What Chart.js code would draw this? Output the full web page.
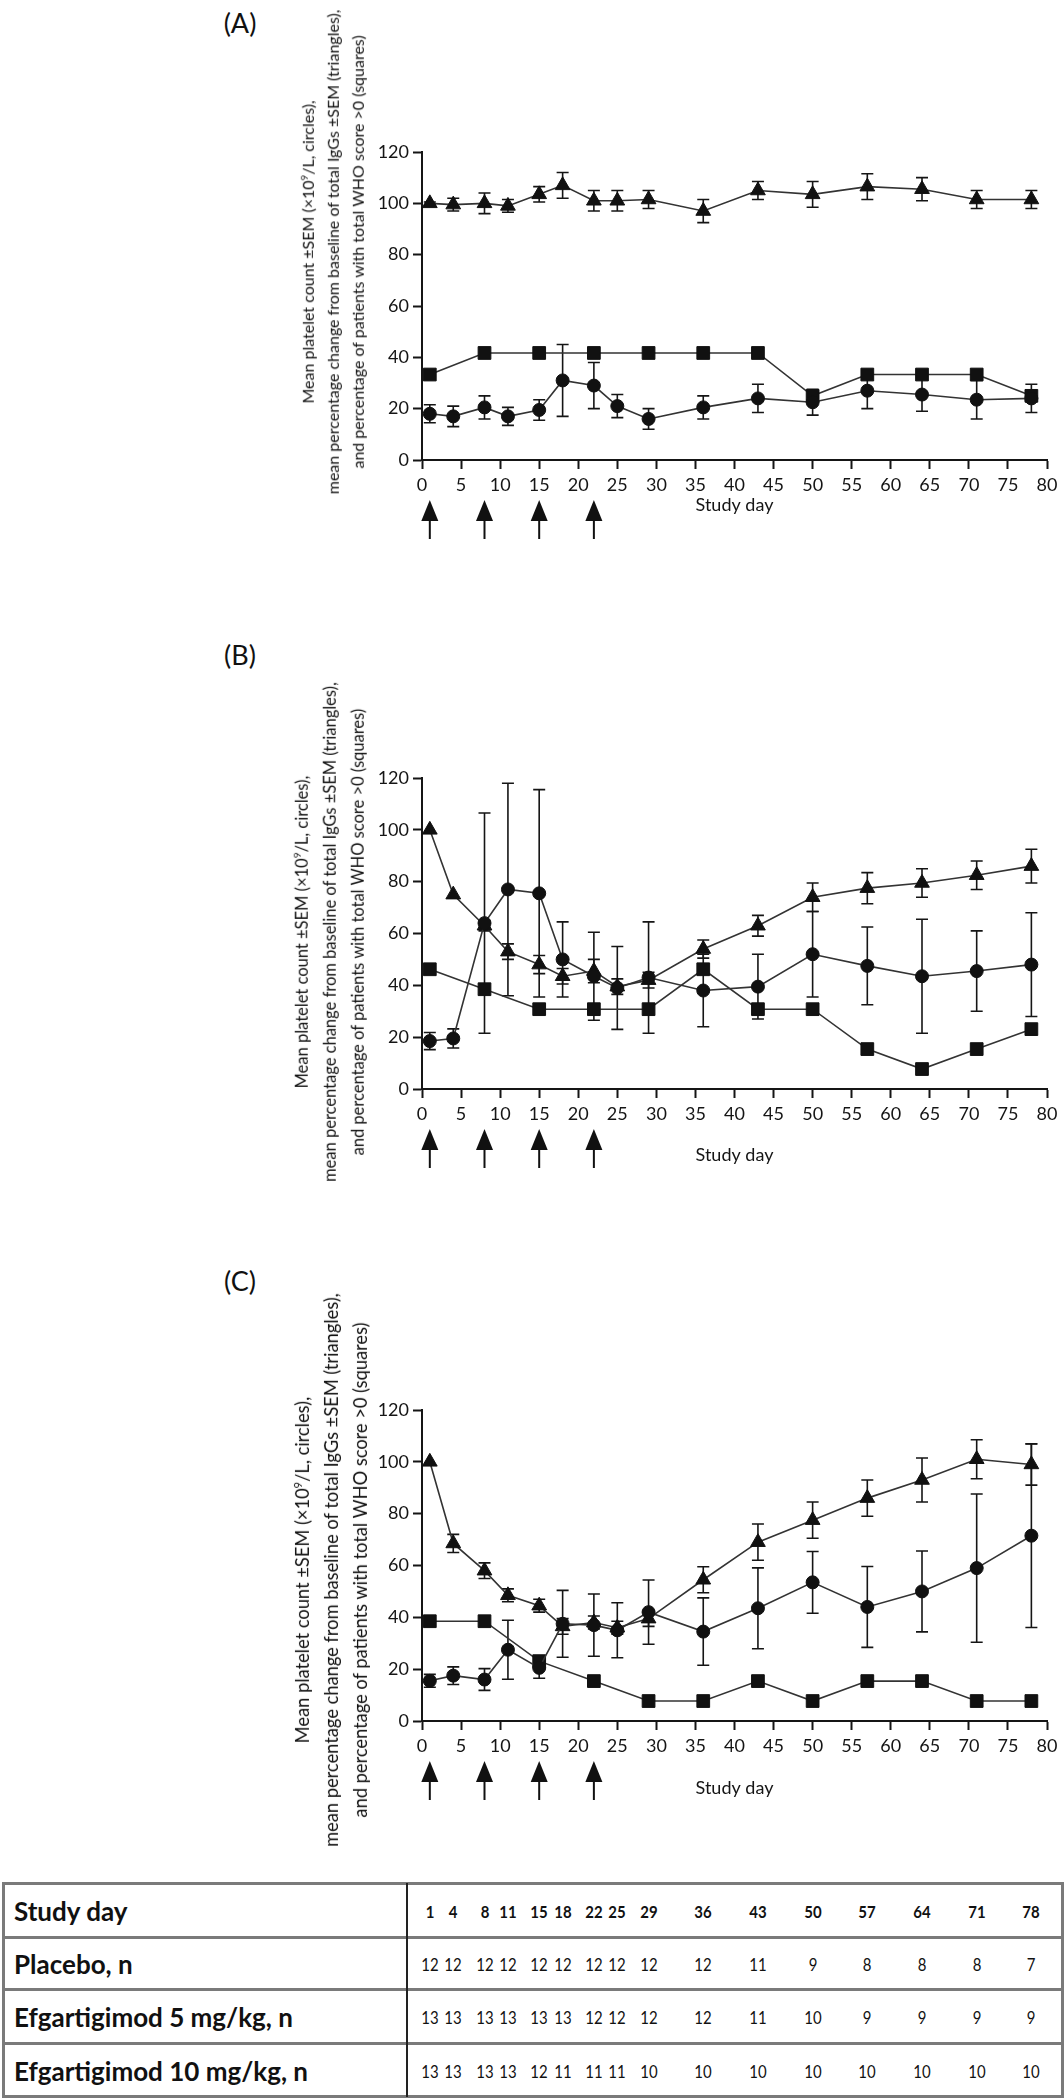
<!DOCTYPE html>
<html>
<head>
<meta charset="utf-8">
<script src="https://cdn.jsdelivr.net/npm/chart.js@4.4.1/dist/chart.umd.min.js"></script>
<style>
  body { margin: 0; background: #fff; }
  #page { position: relative; width: 1064px; height: 2100px; overflow: hidden; font-family: Lato, "Open Sans", sans-serif; color: #111; }
  canvas { position: absolute; left: 0; }
  .plabel { position: absolute; font-size: 27px; transform: translate(-50%, -50%); }
  .ytitle { position: absolute; white-space: nowrap; text-align: center; transform: translate(-50%, -50%) rotate(-90deg); }
  .ytitle sup { font-size: 0.6em; }
  .hline { position: absolute; left: 2px; width: 1062px; height: 3px; background: #7a7a7a; }
  .vline { position: absolute; width: 2px; background: #222; }
  .rowlabel { position: absolute; left: 14px; font-weight: bold; font-size: 26px; transform: translateY(-50%); }
  .num { position: absolute; font-size: 17px; transform: translate(-50%, -50%) scaleX(0.88); }
</style>
</head>
<body>
<div id="page">
  <div class="plabel" style="left:240px;top:22px">(A)</div>
  <div class="plabel" style="left:240px;top:654px">(B)</div>
  <div class="plabel" style="left:240px;top:1280px">(C)</div>

  <canvas id="chartA" width="1064" height="580" style="top:0px"></canvas>
  <canvas id="chartB" width="1064" height="600" style="top:590px"></canvas>
  <canvas id="chartC" width="1064" height="620" style="top:1230px"></canvas>

  <div class="ytitle" id="titleA" style="left:331px;top:252px;font-size:16px;line-height:25px"></div>
  <div class="ytitle" id="titleB" style="left:327px;top:932px;font-size:16.5px;line-height:28px"></div>
  <div class="ytitle" id="titleC" style="left:329px;top:1570px;font-size:18.3px;line-height:29px"></div>

  <div id="table"></div>
</div>
<script>
// study days on the x axis
const days = [1, 4, 8, 11, 15, 18, 22, 25, 29, 36, 43, 50, 57, 64, 71, 78];
const weekDays = [1, 8, 15, 22, 29, 36, 43, 50, 57, 64, 71, 78];
const doseDays = [1, 8, 15, 22];   // arrows under the axis

// (A) placebo
const plateletsA = [18, 17, 20.5, 17, 19.5, 31, 29, 21, 16, 20.5, 24, 22.5, 27, 25.5, 23.5, 24];
const plateletsSemA = [3.5, 4, 4.5, 3.5, 4, 14, 9, 4.5, 4, 4.5, 5.5, 5, 7, 6.5, 7.5, 5.5];
const iggA = [100, 99.5, 100, 99, 103.5, 107, 101, 101, 101.5, 97, 105, 103.5, 106.5, 105.5, 101.5, 101.5];
const iggSemA = [0.5, 2.5, 4, 2.5, 3, 5, 4, 4, 3.5, 4.5, 3.5, 5, 5, 4.5, 3.5, 3.5];
const whoA = [33.3, 41.7, 41.7, 41.7, 41.7, 41.7, 41.7, 25, 33.3, 33.3, 33.3, 25];

// (B) efgartigimod 5 mg/kg
const plateletsB = [18.5, 19.5, 64, 77, 75.5, 50, 43.5, 39, 43, 38, 39.5, 52, 47.5, 43.5, 45.5, 48];
const plateletsSemB = [3.3, 3.7, 42.5, 41, 40, 14.5, 17, 16, 21.5, 14, 12.5, 16.5, 15, 22, 15.5, 20];
const iggB = [100, 75, 63, 53, 48, 43.5, 45.5, 39.5, 42, 54, 63, 74, 77.5, 79.5, 82.5, 86];
const iggSemB = [0, 0, 2, 3, 3.5, 3, 4.5, 3, 3, 3.5, 4, 5.5, 6, 5.5, 5.5, 6.5];
const whoB = [46.2, 38.5, 30.8, 30.8, 30.8, 46.2, 30.8, 30.8, 15.4, 7.7, 15.4, 23.1];

// (C) efgartigimod 10 mg/kg
const plateletsC = [15.5, 17.5, 16, 27.5, 20.5, 37.5, 37, 35, 42, 34.5, 43.5, 53.5, 44, 50, 59, 71.5];
const plateletsSemC = [2.5, 3.4, 4.2, 11.4, 4, 12.9, 12, 10.6, 12.4, 13, 15.6, 11.9, 15.6, 15.6, 28.6, 35.4];
const iggC = [100, 68.5, 58, 48.5, 44.5, 36.5, 38, 36, 39.5, 54.5, 69, 77.5, 86, 93, 101, 99];
const iggSemC = [0, 3.5, 3, 2.5, 2.5, 3, 2.5, 2.5, 3, 5, 7, 7, 7, 8.5, 7.5, 8];
const whoC = [38.5, 38.5, 23.1, 15.4, 7.7, 7.7, 15.4, 7.7, 15.4, 15.4, 7.7, 7.7];

// patients per visit (table under the plots)
const rowNames = ['Placebo, n', 'Efgartigimod 5 mg/kg, n', 'Efgartigimod 10 mg/kg, n'];
const nPlacebo = [12, 12, 12, 12, 12, 12, 12, 12, 12, 12, 11, 9, 8, 8, 8, 7];
const nEfg5 = [13, 13, 13, 13, 13, 13, 12, 12, 12, 12, 11, 10, 9, 9, 9, 9];
const nEfg10 = [13, 13, 13, 13, 12, 11, 11, 11, 10, 10, 10, 10, 10, 10, 10, 10];

const yTitle = 'Mean platelet count ±SEM (×10<sup>9</sup>/L, circles),<br>' +
  'mean percentage change from baseline of total IgGs ±SEM (triangles),<br>' +
  'and percentage of patients with total WHO score &gt;0 (squares)';
['titleA', 'titleB', 'titleC'].forEach(id => document.getElementById(id).innerHTML = yTitle);

const ink = '#151515';
const tickFont = { family: 'Lato', size: 18 };

function pairs(xs, ys) {
  return xs.map((x, i) => ({ x: x, y: ys[i] }));
}

// error bars drawn behind the markers
const errorBars = {
  id: 'errorBars',
  beforeDatasetsDraw(chart) {
    const ctx = chart.ctx;
    const ys = chart.scales.y;
    chart.data.datasets.forEach((ds, i) => {
      if (!ds.sem) return;
      const meta = chart.getDatasetMeta(i);
      ctx.save();
      ctx.strokeStyle = ink;
      ctx.lineWidth = 1.6;
      meta.data.forEach((pt, j) => {
        const e = ds.sem[j];
        if (!e) return;
        const top = ys.getPixelForValue(ds.data[j].y + e);
        const bot = ys.getPixelForValue(ds.data[j].y - e);
        ctx.beginPath();
        ctx.moveTo(pt.x, top); ctx.lineTo(pt.x, bot);
        ctx.moveTo(pt.x - 6, top); ctx.lineTo(pt.x + 6, top);
        ctx.moveTo(pt.x - 6, bot); ctx.lineTo(pt.x + 6, bot);
        ctx.stroke();
      });
      ctx.restore();
    });
  }
};

// dosing arrows below the x axis
const doseArrows = {
  id: 'doseArrows',
  afterDraw(chart) {
    const ctx = chart.ctx;
    const xs = chart.scales.x;
    const base = chart.chartArea.bottom;
    ctx.save();
    ctx.fillStyle = '#111';
    ctx.strokeStyle = '#111';
    ctx.lineWidth = 2;
    doseDays.forEach(d => {
      const px = xs.getPixelForValue(d);
      ctx.beginPath();
      ctx.moveTo(px, base + 40);
      ctx.lineTo(px - 8.5, base + 61);
      ctx.lineTo(px + 8.5, base + 61);
      ctx.closePath();
      ctx.fill();
      ctx.beginPath();
      ctx.moveTo(px, base + 60);
      ctx.lineTo(px, base + 79);
      ctx.stroke();
    });
    ctx.restore();
  }
};

function makePanel(id, topPad, xHeight, titleBottom, platelets, plateletsSem, igg, iggSem, who) {
  const common = { borderColor: '#333', borderWidth: 1.6, backgroundColor: '#111', pointBorderColor: '#111', pointBorderWidth: 1 };
  return new Chart(document.getElementById(id), {
    type: 'line',
    data: {
      datasets: [
        Object.assign({ label: 'platelets', data: pairs(days, platelets), sem: plateletsSem, pointStyle: 'circle', pointRadius: 6.5 }, common),
        Object.assign({ label: 'IgG', data: pairs(days, igg), sem: iggSem, pointStyle: 'triangle', pointRadius: 8.5 }, common),
        Object.assign({ label: 'WHO', data: pairs(weekDays, who), pointStyle: 'rect', pointRadius: 9 }, common)
      ]
    },
    options: {
      responsive: false,
      animation: false,
      events: [],
      layout: { padding: { left: 0, right: 17, top: topPad, bottom: 0 } },
      plugins: { legend: { display: false }, tooltip: { enabled: false } },
      scales: {
        x: {
          type: 'linear', min: 0, max: 80,
          ticks: { stepSize: 5, font: tickFont, color: ink, padding: 5, maxRotation: 0 },
          grid: { drawOnChartArea: false, tickLength: 9, tickColor: ink, tickWidth: 2 },
          border: { color: ink, width: 2 },
          title: { display: true, text: 'Study day', font: tickFont, color: ink, padding: { top: 0, bottom: titleBottom } },
          afterFit(s) { s.height = xHeight; }
        },
        y: {
          min: 0, max: 120,
          ticks: { stepSize: 20, font: tickFont, color: ink, padding: 4 },
          grid: { drawOnChartArea: false, tickLength: 9, tickColor: ink, tickWidth: 2 },
          border: { color: ink, width: 2 },
          afterFit(s) { s.width = 422; }
        }
      }
    },
    plugins: [errorBars, doseArrows]
  });
}

const chartA = makePanel('chartA', 152, 120, 64, plateletsA, plateletsSemA, iggA, iggSemA, whoA);
const chartB = makePanel('chartB', 188, 101, 24, plateletsB, plateletsSemB, iggB, iggSemB, whoB);
const chartC = makePanel('chartC', 180, 129, 51, plateletsC, plateletsSemC, iggC, iggSemC, whoC);

// table of patient numbers, columns placed on the day positions of panel C
function buildTable() {
  const page = document.getElementById('table');
  const lines = [1883, 1937, 1989, 2043, 2096];
  let html = '';
  lines.forEach(y => html += `<div class="hline" style="top:${y - 1}px"></div>`);
  html += `<div class="hline" style="top:1883px;left:2px;width:3px;height:214px"></div>`;
  html += `<div class="hline" style="top:1883px;left:1061px;width:3px;height:214px"></div>`;
  html += `<div class="vline" style="left:406px;top:1883px;height:214px"></div>`;
  const rows = [['Study day', days, true], [rowNames[0], nPlacebo, false], [rowNames[1], nEfg5, false], [rowNames[2], nEfg10, false]];
  const xs = chartC.scales.x;
  rows.forEach((r, i) => {
    const cy = (lines[i] + lines[i + 1]) / 2 + 1;
    html += `<div class="rowlabel" style="top:${cy}px">${r[0]}</div>`;
    r[1].forEach((v, j) => {
      const px = xs.getPixelForValue(days[j]);
      html += `<div class="num" style="left:${px}px;top:${cy}px;font-weight:${r[2] ? 'bold' : 'normal'}">${v}</div>`;
    });
  });
  page.innerHTML = html;
}
buildTable();
</script>
</body>
</html>
